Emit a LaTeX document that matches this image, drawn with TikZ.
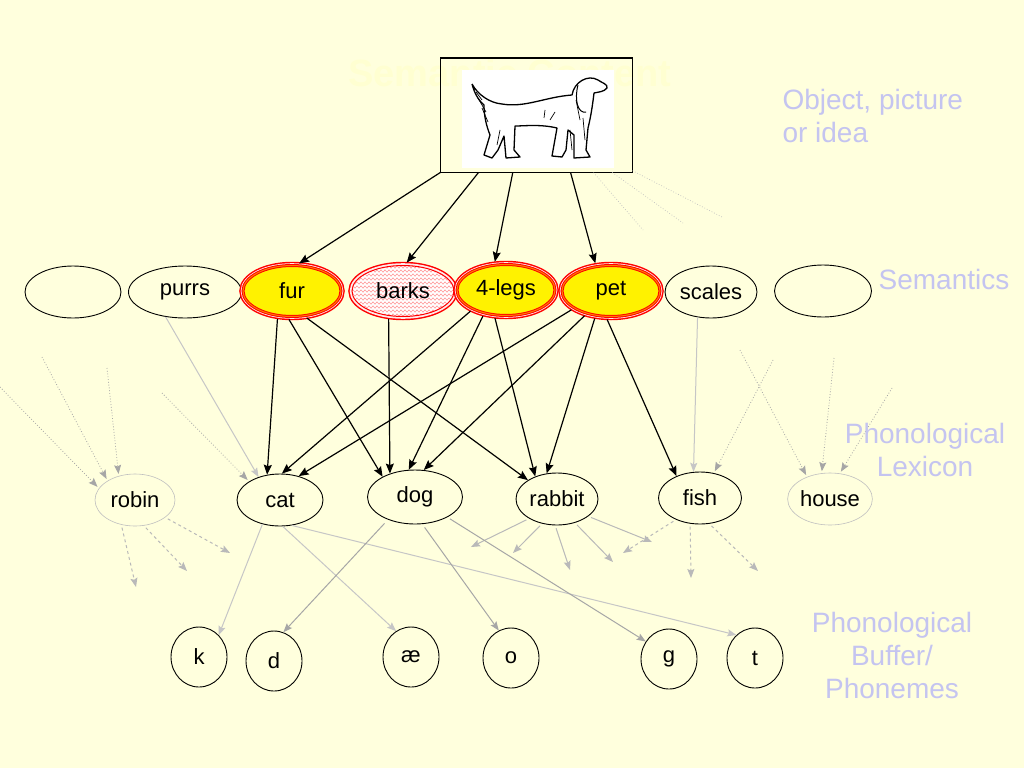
\documentclass[tikz,border=0pt]{standalone}
\usepackage{fontspec}
\setmainfont{Liberation Sans}
\usetikzlibrary{shapes.geometric,arrows.meta,decorations.pathmorphing}

\definecolor{paper}{RGB}{255,255,221}
\definecolor{ghost}{RGB}{255,255,209}
\definecolor{tagblue}{RGB}{196,196,240}

\begin{document}
\begin{tikzpicture}[
	x=1pt, y=-1pt,
	every node/.style={font=\fontsize{22}{24}\selectfont},
	picbox/.style={rectangle, draw=black, line width=1pt, minimum width=192pt, minimum height=114pt},
	sem/.style={ellipse, draw=black, line width=0.9pt, inner sep=0pt, minimum width=#1, minimum height=52pt},
	sem/.default=110pt,
	ring/.style={ellipse, inner sep=0pt, minimum width=98pt, minimum height=51pt,
		preaction={draw=red, line width=7.5pt}, preaction={draw=red!8, line width=4.6pt}},
	active/.style={ring, fill=yellow, draw=red, double=orange, line width=1pt, double distance=1pt},
	striped/.style={ring, minimum width=102pt, fill=white, draw=red, line width=1pt,
		path picture={\foreach \k in {-28,-24,...,28}
			\draw[red!45, line width=0.5pt, decorate, decoration={zigzag, segment length=4pt, amplitude=1.2pt}]
			([yshift=\k pt]path picture bounding box.west) -- ([yshift=\k pt]path picture bounding box.east);}},
	lex/.style={ellipse, draw=black, line width=0.9pt, inner sep=0pt, minimum width=#1, minimum height=52pt},
	lex/.default=84pt,
	faint/.style={lex=#1, draw=gray!50, line width=0.6pt},
	phon/.style={ellipse, draw=black, line width=0.9pt, inner sep=0pt, minimum width=56pt, minimum height=60pt},
	link/.style={-{Stealth[length=10pt, width=8pt, inset=1.5pt]}, line width=1.2pt},
	grey/.style={-{Stealth[length=9pt, width=7pt, inset=1.5pt]}, draw=gray!45, line width=1pt},
	dark/.style={grey, draw=gray!70},
	feed/.style={-{Stealth[length=9pt, width=7pt, inset=1.5pt]}, draw=gray!70, dotted, line width=0.8pt},
	spread/.style={-{Stealth[length=9pt, width=7pt, inset=1.5pt]}, draw=gray!55, dashed, line width=1pt},
	trail/.style={draw=gray!50, dotted, line width=0.7pt},
	tag/.style={text=tagblue, font=\fontsize{28}{33}\selectfont, align=center},
]

\useasboundingbox (0,0) rectangle (1024,768);
\fill[paper] (0,0) rectangle (1024,768);

\begin{scope}[]
%%% OBJECT
\node[text=ghost, font=\fontsize{38}{40}\selectfont\bfseries] (title) at (510,73) {Semantic Content};
\fill[white] (462,70) rectangle (614,168);
\draw[line width=1.3pt, line join=round]
	(472,84) .. controls (478,95) and (490,103) .. (502,104)
	.. controls (525,108) and (545,97) .. (572,95)
	.. controls (574,82) and (588,74) .. (598,80)
	.. controls (602,83) and (608,84) .. (607,88)
	.. controls (604,92) and (598,92) .. (594,93)
	.. controls (592,110) and (590,120) .. (588,128)
	-- (586,150) -- (590,157) -- (574,158) -- (574,135)
	-- (568,130) -- (566,150) -- (562,157) -- (552,156) -- (557,128)
	.. controls (540,124) and (525,126) .. (515,126)
	-- (514,150) -- (520,157) -- (506,158) -- (504,136)
	-- (498,150) -- (492,158) -- (484,155) -- (490,135)
	.. controls (486,125) and (484,115) .. (484,105)
	.. controls (478,100) and (474,92) .. (472,84);
\draw[line width=1pt] (578,85) .. controls (574,100) and (578,114) .. (586,112);
\draw[line width=0.7pt] (476,92) -- (482,100) (478,98) -- (486,112) (482,108) -- (488,122)
	(576,100) -- (580,120) (583,118) -- (585,140) (570,130) -- (572,150)
	(545,110) -- (544,118) (555,112) -- (550,120) (500,130) -- (497,145);
\node[picbox] (object) at (536,115) {};
\coordinate (t1) at (643,230);
\coordinate (t2) at (683,223);
\coordinate (t3) at (722,217);
\draw[trail] (object.315) -- (t1);
\draw[trail] (object.323) -- (t2);
\draw[trail] (object.330) -- (t3);
\end{scope}

\begin{scope}[]
%%% SEMANTICS
\node[sem=96pt] (s1) at (73,292) {};
\node[sem=113pt] (purrs) at (185,292) {purrs};
\node[active] (fur) at (292,291) {fur};
\node[striped] (barks) at (403,291) {barks};
\node[active] (legs) at (506,290) {4-legs};
\node[active] (pet) at (611,291) {pet};
\node[sem=92pt] (scales) at (711,292) {scales};
\node[sem=97pt] (s2) at (823,291) {};

\draw[link, shorten >=3pt] (object.211) -- (fur.80);
\draw[link, shorten >=3pt] (object.225) -- (barks.86);
\draw[link, shorten >=3pt] (object.248) -- (legs.115);
\draw[link, shorten >=3pt] (object.301) -- (pet.121);
\end{scope}

\begin{scope}[]
%%% PHONOLOGICAL LEXICON
\node[faint=80pt] (robin) at (135,500) {robin};
\node[lex=86pt] (cat) at (280,500) {cat};
\node[lex=95pt, minimum height=54pt] (dog) at (415,497) {dog};
\node[lex=82pt] (rabbit) at (557,499) {rabbit};
\node[lex=83pt] (fish) at (700,498) {fish};
\node[faint=82pt] (house) at (830,499) {house};

\draw[link, shorten <=3pt] (fur.240) -- (cat.117);
\draw[link, shorten <=3pt] (fur.260) -- (dog.148);
\draw[link, shorten <=3pt] (fur.296) -- (rabbit.147);
\draw[link, shorten <=3pt] (barks.240) -- (dog.137);
\draw[link, shorten <=3pt] (legs.210) -- (cat.86);
\draw[link, shorten <=3pt] (legs.227) -- (dog.103);
\draw[link, shorten <=3pt] (legs.245) -- (rabbit.134);
\draw[link, shorten <=3pt] (pet.205) -- (cat.52);
\draw[link, shorten <=3pt] (pet.223) -- (dog.72);
\draw[link, shorten <=3pt] (pet.238) -- (rabbit.112);
\draw[link, shorten <=3pt] (pet.259) -- (fish.137);
\draw[grey] (purrs.232) -- (cat.133);
\draw[grey] (scales.242) -- (fish.104);

% inputs from other features
\foreach \sx/\sy/\a [count=\i] in {0/387/162, 42/357/145, 107/368/124} {
	\coordinate (r\i) at (\sx,\sy);
	\draw[feed, shorten >=2pt] (r\i) -- (robin.\a);
}
\coordinate (c1) at (162,393);
\draw[feed, shorten >=2pt] (c1) -- (cat.149);
\coordinate (f1) at (773,360);
\draw[feed, shorten >=2pt] (f1) -- (fish.61);
\foreach \sx/\sy/\a [count=\i] in {740/350/136, 834/358/108, 892/388/69} {
	\coordinate (h\i) at (\sx,\sy);
	\draw[feed, shorten >=2pt] (h\i) -- (house.\a);
}

% outputs to other phonemes
\foreach \a/\ex/\ey [count=\i] in {330/230/553, 289/187/571, 241/136/587} {
	\coordinate (ro\i) at (\ex,\ey);
	\draw[spread, shorten <=3pt] (robin.\a) -- (ro\i);
}
\foreach \a/\ex/\ey [count=\i] in {215/471/547, 239/513/553, 266/570/570, 307/613/562, 331/652/542} {
	\coordinate (ra\i) at (\ex,\ey);
	\draw[grey, draw=gray!55, shorten <=3pt] (rabbit.\a) -- (ra\i);
}
\foreach \a/\ex/\ey [count=\i] in {222/623/553, 249/691/578, 290/758/571} {
	\coordinate (fi\i) at (\ex,\ey);
	\draw[spread, shorten <=3pt] (fish.\a) -- (fi\i);
}
\end{scope}

\begin{scope}[]
%%% PHONOLOGICAL BUFFER
\node[phon] (k) at (199,657) {k};
\node[phon] (d) at (274,661) {d};
\node[phon] (ae) at (411,657) {æ};
\node[phon] (o) at (511,658) {o};
\node[phon] (g) at (669,659) {g};
\node[phon] (t) at (755,658) {t};

\draw[grey] (cat.234) -- (k.48);
\draw[grey] (cat.276) -- (ae.120);
\draw[grey] (cat.295) -- (t.129);
\draw[dark, shorten <=5pt] (dog.220) -- (d.72);
\draw[dark, shorten <=4pt] (dog.285) -- (o.114);
\draw[dark, shorten <=3pt] (dog.328) -- (g.143);
\end{scope}

%%% LEVELS
\node[tag, anchor=west, align=left] (lobj) at (779,116) {Object, picture\\or idea};
\node[tag] (lsem) at (944,279) {Semantics};
\node[tag] (llex) at (925,450) {Phonological\\Lexicon};
\node[tag] (lbuf) at (892,655) {Phonological\\Buffer/\\Phonemes};

\end{tikzpicture}
\end{document}
